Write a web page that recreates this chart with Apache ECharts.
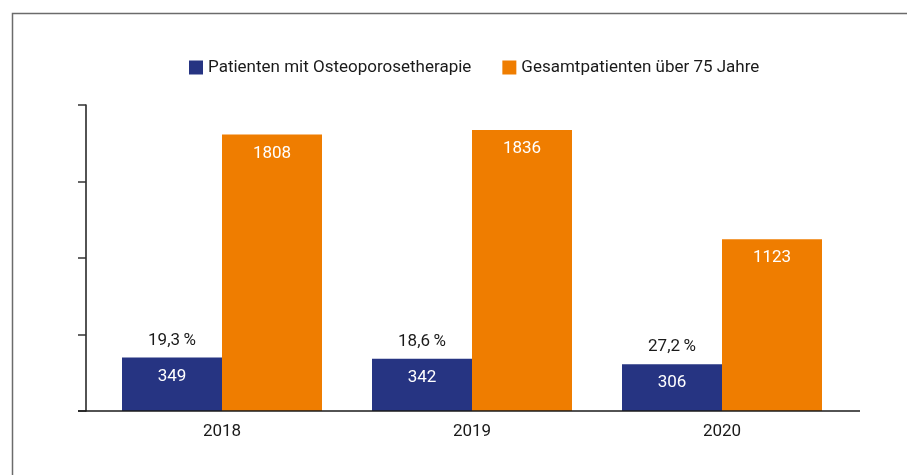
<!DOCTYPE html>
<html>
<head>
<meta charset="utf-8">
<script src="https://cdn.jsdelivr.net/npm/echarts@6/dist/echarts.min.js"></script>
<style>
  html, body { margin: 0; padding: 0; background: #fff; }
  #chart { width: 907px; height: 475px; }
</style>
</head>
<body>
<div id="chart"></div>
<script>
// Patients with osteoporosis therapy vs. all patients over 75, per year
const years = ['2018', '2019', '2020'];
const therapyPatients = [349, 342, 306];
const totalPatients = [1808, 1836, 1123];
const shareLabels = ['19,3\u2009%', '18,6\u2009%', '27,2\u2009%'];
const seriesNames = ['Patienten mit Osteoporosetherapie', 'Gesamtpatienten über 75 Jahre'];

const BLUE = '#263482';
const ORANGE = '#ef7d00';
const FONT = 'Roboto';
const FS = 17;

const chart = echarts.init(document.getElementById('chart'), null, { renderer: 'canvas' });

const gridLeft = 97, gridRight = 60, gridTop = 105, gridBottom = 64;

chart.setOption({
  animation: false,
  textStyle: { fontFamily: FONT },
  legend: {
    top: 54,
    left: 184,
    itemWidth: 14,
    itemHeight: 14,
    itemGap: 31,
    icon: 'rect',
    textStyle: { fontSize: FS, color: '#1a1a1a', fontFamily: FONT },
    data: seriesNames
  },
  grid: { left: gridLeft, right: gridRight, top: gridTop, bottom: gridBottom },
  xAxis: {
    type: 'category',
    data: years,
    axisLine: { show: false },
    axisTick: { show: false },
    axisLabel: { fontSize: FS, color: '#1a1a1a', margin: 12, fontFamily: FONT }
  },
  yAxis: {
    type: 'value',
    min: 0,
    max: 2000,
    interval: 500,
    offset: 11,
    axisLine: { show: true, lineStyle: { color: '#1a1a1a', width: 1.5 } },
    axisTick: { show: true, length: 8, lineStyle: { color: '#333', width: 1.5 } },
    axisLabel: { show: false },
    splitLine: { show: false }
  },
  graphic: [
    // outer frame
    { type: 'polyline', shape: { points: [[12.5, 475], [12.5, 13.5], [907, 13.5]] },
      style: { stroke: '#6b6b6b', lineWidth: 1.5, fill: null }, silent: true },
    // baseline extending across the plot
    { type: 'line', shape: { x1: 78, y1: 411, x2: 860, y2: 411 },
      style: { stroke: '#1a1a1a', lineWidth: 1.5 }, silent: true, z: 10 }
  ],
  series: [
    {
      name: seriesNames[0],
      type: 'bar',
      data: therapyPatients,
      barWidth: 100,
      barGap: '0%',
      itemStyle: { color: BLUE },
      label: {
        show: true,
        position: 'insideTop',
        distance: 0,
        offset: [0, -43],
        formatter: p => '{p|' + shareLabels[p.dataIndex] + '}\n{v|' + p.value + '}',
        rich: {
          p: { fontSize: FS, color: '#1a1a1a', lineHeight: 52, fontFamily: FONT },
          v: { fontSize: FS, color: '#ffffff', lineHeight: 20, fontFamily: FONT }
        }
      }
    },
    {
      name: seriesNames[1],
      type: 'bar',
      data: totalPatients,
      barWidth: 100,
      barGap: '0%',
      itemStyle: { color: ORANGE },
      label: {
        show: true,
        position: 'insideTop',
        distance: 9,
        fontSize: FS,
        lineHeight: 20,
        color: '#ffffff',
        fontFamily: FONT
      }
    }
  ]
});
</script>
</body>
</html>
